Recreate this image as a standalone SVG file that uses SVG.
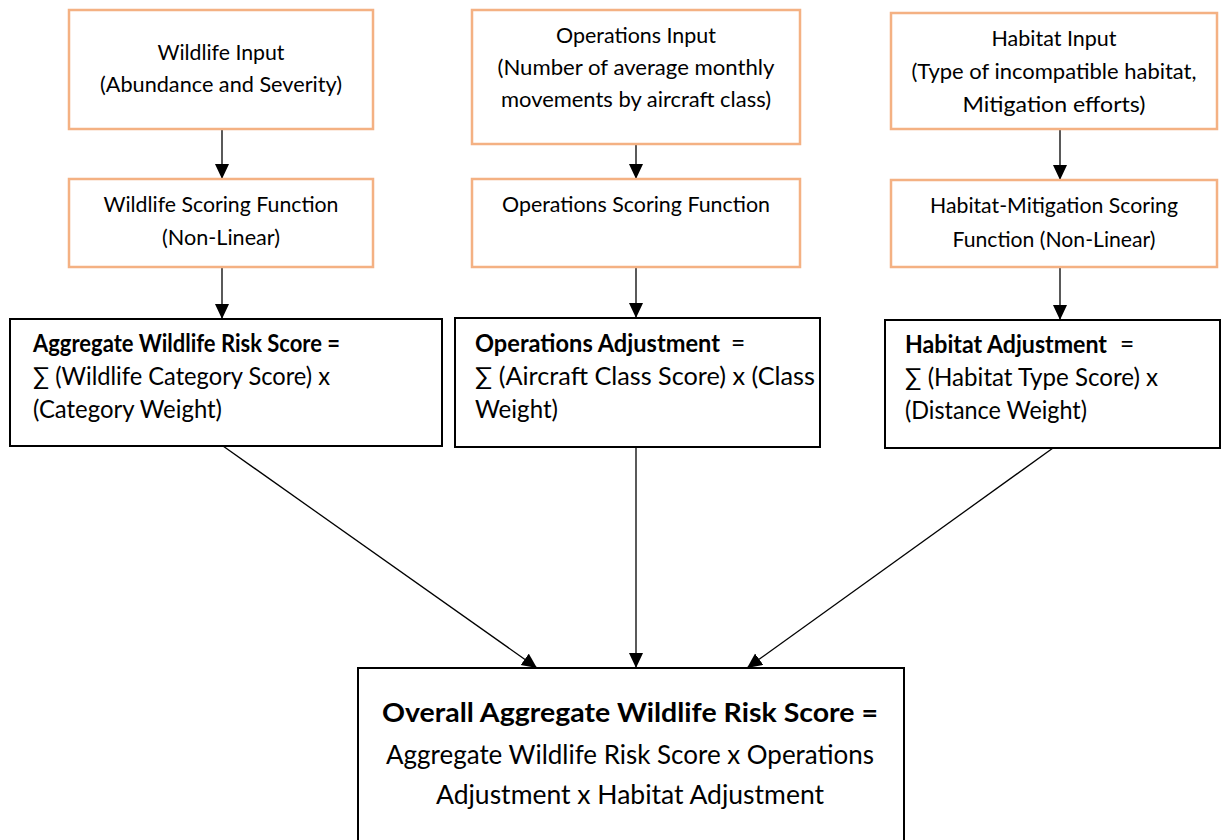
<svg xmlns="http://www.w3.org/2000/svg" width="1224" height="840" viewBox="0 0 1224 840">
<style>
.in{fill:#fff;stroke:#F4B183;stroke-width:2.5}
.bx{fill:#fff;stroke:#000;stroke-width:2}
text{font-family:Lato,"Liberation Sans",sans-serif;fill:#000}
.t{font-size:22px;text-anchor:middle}
.m{font-size:24.5px}
.b{font-size:27.5px;text-anchor:middle}
.bold{font-weight:bold}
.c{stroke:#000;stroke-width:1.3;fill:none;marker-end:url(#ah)}
</style>
<defs>
<marker id="ah" markerUnits="userSpaceOnUse" markerWidth="16" markerHeight="15" refX="15" refY="7" orient="auto">
<path d="M0,0 L15,7 L0,14 z" fill="#000"/>
</marker>
</defs>
<rect width="1224" height="840" fill="#fff"/>
<g id="connectors">
<line class="c" x1="222" y1="129" x2="222" y2="179"/>
<line class="c" x1="636" y1="144" x2="636" y2="179"/>
<line class="c" x1="1060" y1="129" x2="1060" y2="180"/>
<line class="c" x1="222" y1="267" x2="222" y2="319"/>
<line class="c" x1="636" y1="267" x2="636" y2="318"/>
<line class="c" x1="1060" y1="267" x2="1060" y2="320"/>
<line class="c" x1="223" y1="446" x2="537" y2="668"/>
<line class="c" x1="636" y1="447" x2="636" y2="668"/>
<line class="c" x1="1053" y1="448" x2="747" y2="668"/>
</g>
<g id="wildlife-input">
<rect class="in" x="69" y="10" width="304" height="119"/>
<text class="t" x="221" y="60" textLength="127" lengthAdjust="spacingAndGlyphs">Wildlife Input</text>
<text class="t" x="221" y="92" textLength="242" lengthAdjust="spacingAndGlyphs">(Abundance and Severity)</text>
</g>
<g id="wildlife-scoring">
<rect class="in" x="69" y="179" width="304" height="88"/>
<text class="t" x="221" y="212" textLength="235" lengthAdjust="spacingAndGlyphs">Wildlife Scoring Function</text>
<text class="t" x="221" y="245" textLength="118" lengthAdjust="spacingAndGlyphs">(Non-Linear)</text>
</g>
<g id="operations-input">
<rect class="in" x="472" y="10" width="328" height="134"/>
<text class="t" x="636" y="43" textLength="160" lengthAdjust="spacingAndGlyphs">Operations Input</text>
<text class="t" x="636" y="75" textLength="277" lengthAdjust="spacingAndGlyphs">(Number of average monthly</text>
<text class="t" x="636" y="107" textLength="270" lengthAdjust="spacingAndGlyphs">movements by aircraft class)</text>
</g>
<g id="operations-scoring">
<rect class="in" x="472" y="179" width="328" height="88"/>
<text class="t" x="636" y="212" textLength="268" lengthAdjust="spacingAndGlyphs">Operations Scoring Function</text>
</g>
<g id="habitat-input">
<rect class="in" x="891" y="13" width="326" height="116"/>
<text class="t" x="1054" y="46" textLength="125" lengthAdjust="spacingAndGlyphs">Habitat Input</text>
<text class="t" x="1054" y="79" textLength="285" lengthAdjust="spacingAndGlyphs">(Type of incompatible habitat,</text>
<text class="t" x="1054" y="112" textLength="183" lengthAdjust="spacingAndGlyphs">Mitigation efforts)</text>
</g>
<g id="habitat-scoring">
<rect class="in" x="891" y="180" width="326" height="87"/>
<text class="t" x="1054" y="213" textLength="248" lengthAdjust="spacingAndGlyphs">Habitat-Mitigation Scoring</text>
<text class="t" x="1054" y="247" textLength="203" lengthAdjust="spacingAndGlyphs">Function (Non-Linear)</text>
</g>
<g id="aggregate-wildlife">
<rect class="bx" x="10" y="319" width="432" height="127"/>
<text class="m bold" x="33" y="352" textLength="307" lengthAdjust="spacingAndGlyphs">Aggregate Wildlife Risk Score =</text>
<text class="m" x="33" y="385" textLength="297" lengthAdjust="spacingAndGlyphs">∑ (Wildlife Category Score) x</text>
<text class="m" x="33" y="418" textLength="189" lengthAdjust="spacingAndGlyphs">(Category Weight)</text>
</g>
<g id="operations-adjustment">
<rect class="bx" x="455" y="318" width="365" height="129"/>
<text class="m bold" x="475" y="352" textLength="245" lengthAdjust="spacingAndGlyphs">Operations Adjustment</text>
<text class="m" x="731" y="352">=</text>
<text class="m" x="475" y="385" textLength="340" lengthAdjust="spacingAndGlyphs">∑ (Aircraft Class Score) x (Class</text>
<text class="m" x="475" y="418" textLength="83" lengthAdjust="spacingAndGlyphs">Weight)</text>
</g>
<g id="habitat-adjustment">
<rect class="bx" x="885" y="320" width="335" height="128"/>
<text class="m bold" x="905" y="353" textLength="202" lengthAdjust="spacingAndGlyphs">Habitat Adjustment</text>
<text class="m" x="1120" y="353">=</text>
<text class="m" x="905" y="386" textLength="253" lengthAdjust="spacingAndGlyphs">∑ (Habitat Type Score) x</text>
<text class="m" x="905" y="419" textLength="182" lengthAdjust="spacingAndGlyphs">(Distance Weight)</text>
</g>
<g id="overall-score">
<rect class="bx" x="358" y="668" width="546" height="190"/>
<text class="b bold" x="630" y="722" textLength="496" lengthAdjust="spacingAndGlyphs">Overall Aggregate Wildlife Risk Score =</text>
<text class="b" x="630" y="764" textLength="488" lengthAdjust="spacingAndGlyphs">Aggregate Wildlife Risk Score x Operations</text>
<text class="b" x="630" y="804" textLength="388" lengthAdjust="spacingAndGlyphs">Adjustment x Habitat Adjustment</text>
</g>
</svg>
